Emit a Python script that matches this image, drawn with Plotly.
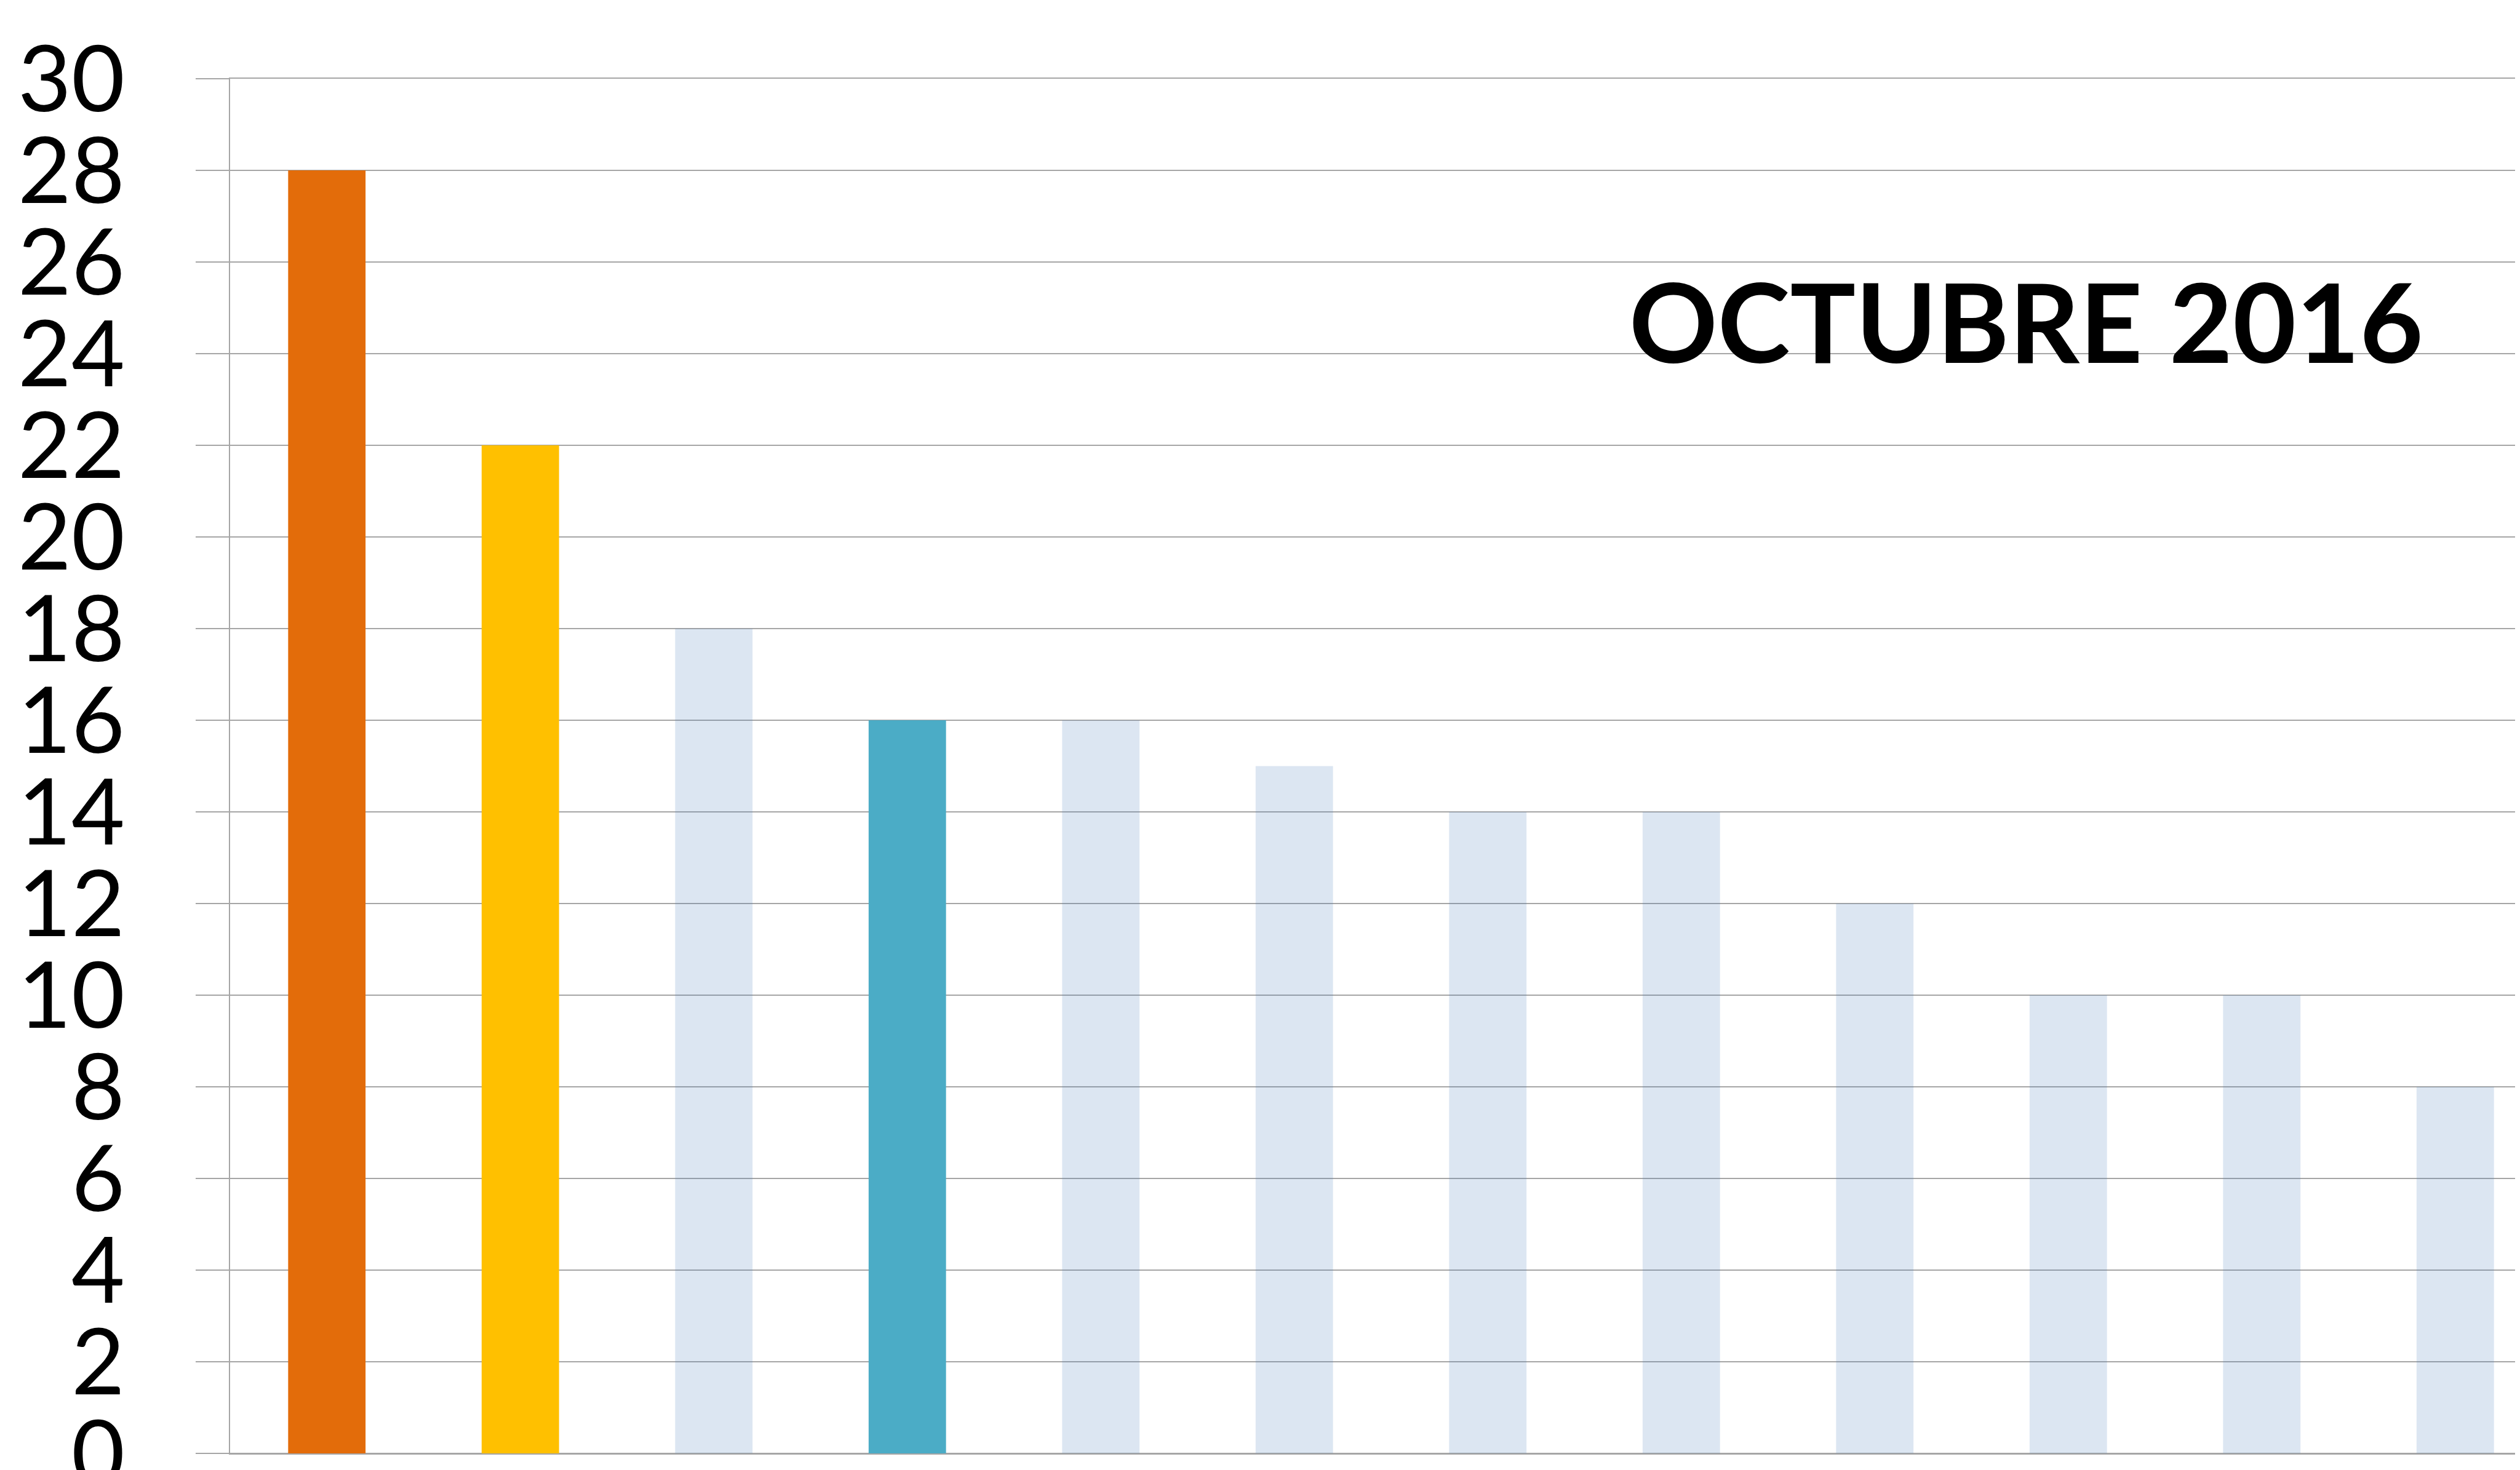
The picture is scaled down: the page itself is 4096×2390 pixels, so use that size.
import plotly.graph_objects as go

categories = ["C1", "C2", "C3", "C4", "C5", "C6", "C7", "C8", "C9", "C10", "C11", "C12"]
values = [28, 22, 18, 16, 16, 15, 14, 14, 12, 10, 10, 8]
bar_colors = ["#E36C0A", "#FFC000", "rgba(79,129,189,0.2)", "#4BACC6",
              "rgba(79,129,189,0.2)", "rgba(79,129,189,0.2)", "rgba(79,129,189,0.2)",
              "rgba(79,129,189,0.2)", "rgba(79,129,189,0.2)", "rgba(79,129,189,0.2)",
              "rgba(79,129,189,0.2)", "rgba(79,129,189,0.2)"]
y_ticks = list(range(0, 31, 2))
title_text = "OCTUBRE 2016"

GRID = "#A6A6A6"

fig = go.Figure(go.Bar(
    x=list(range(len(categories))),
    y=values,
    marker=dict(color=bar_colors, line=dict(width=0)),
    width=0.40,
    hoverinfo="skip",
    customdata=categories,
))

fig.update_layout(
    width=4096, height=2390,
    margin=dict(l=366, r=0, t=120, b=35, pad=0, autoexpand=False),
    paper_bgcolor="white", plot_bgcolor="white",
    showlegend=False,
    font=dict(family="Lato", color="black"),
    xaxis=dict(
        range=[-0.5, 11.36], automargin=False,
        showgrid=False, zeroline=False, showticklabels=False, ticks="",
        showline=True, mirror=True, linecolor=GRID, linewidth=2,
    ),
    yaxis=dict(
        range=[0, 30], automargin=False,
        tickmode="array", tickvals=y_ticks,
        showgrid=True, gridcolor=GRID, gridwidth=2,
        zeroline=True, zerolinecolor=GRID, zerolinewidth=2,
        showline=True, linecolor=GRID, linewidth=2,
        ticks="outside", ticklen=54, tickwidth=2, tickcolor=GRID,
        tickfont=dict(family="Lato", size=150, color="black"),
        ticklabelstandoff=85,
        ticklabeloverflow="allow",
    ),
    annotations=[dict(
        text="<b>" + title_text + "</b>",
        xref="paper", yref="paper", x=0.7826, y=0.824,
        xanchor="center", yanchor="middle", showarrow=False,
        font=dict(family="Lato", size=178, color="black"),
    )],
)

fig.write_html("out.html")
